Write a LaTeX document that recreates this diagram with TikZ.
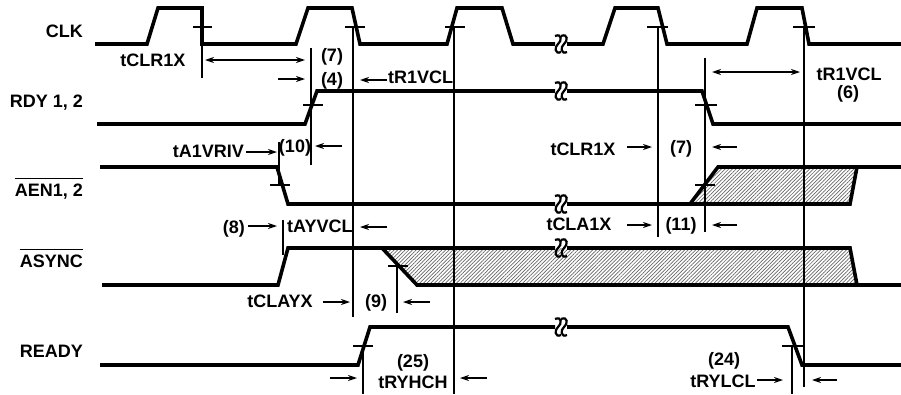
\documentclass[tikz,border=0pt]{standalone}
\usepackage{fontspec}
\setmainfont{Liberation Sans}
\usetikzlibrary{arrows.meta,patterns.meta}
\begin{document}
\begin{tikzpicture}[x=1pt,y=-1pt,
  wave/.style={line width=3.6pt},
  thinline/.style={line width=1.3pt},
  arr/.style={thinline,-{Stealth[length=9pt,width=6pt]}},
  darr/.style={thinline,{Stealth[length=9pt,width=6pt]}-{Stealth[length=9pt,width=6pt]}},
  txt/.style={font=\fontsize{18}{21}\selectfont\bfseries, inner sep=0pt},
  hatch/.style={pattern={Lines[angle=45,distance=2.6pt,line width=0.7pt]}, pattern color=black!60},
  brk/.pic={\draw[line width=2.2pt] (-3,-8) .. controls (4,-11) and (4,-3) .. (0,0) .. controls (-4,3) and (-3,11) .. (3,8);}
]
\useasboundingbox (0,0) rectangle (901,394);

% hatched regions
\fill[hatch] (690,204) -- (718,167) -- (857,167) -- (850,204) -- cycle;
\fill[hatch] (382,248) -- (850,248) -- (857,285) -- (417,285) -- cycle;

% CLK
\draw[wave] (95,44) -- (147,44) -- (158,8) -- (202,8) -- (202,44) -- (296,44) -- (308,8) -- (352,8) -- (360,44) -- (447,44) -- (457,8) -- (502,8) -- (513,44) -- (555,44);
\draw[wave] (567,44) -- (603,44) -- (615,8) -- (658,8) -- (667,44) -- (747,44) -- (757,8) -- (802,8) -- (809,44) -- (901,44);
% RDY
\draw[wave] (97,124) -- (305,124) -- (317,91) -- (555,91);
\draw[wave] (567,91) -- (702,91) -- (713,124) -- (901,124);
% AEN
\draw[wave] (100,167) -- (277,167) -- (288,204) -- (555,204);
\draw[wave] (567,204) -- (850,204) -- (857,167) -- (901,167);
\draw[wave] (690,204) -- (718,167) -- (857,167);
% ASYNC
\draw[wave] (102,285) -- (278,285) -- (288,248) -- (555,248);
\draw[wave] (567,248) -- (850,248) -- (857,285) -- (901,285);
\draw[wave] (382,248) -- (417,285) -- (857,285);
% READY
\draw[wave] (100,365) -- (358,365) -- (370,327) -- (555,327);
\draw[wave] (567,327) -- (788,327) -- (802,365) -- (901,365);

% breaks
\foreach \yy in {44,91,204,248,327}{
  \pic at (558,\yy) {brk};
  \pic at (564,\yy) {brk};
}

% vertical reference lines
\draw[thinline] (202,27) -- (202,78);
\draw[thinline] (311,48) -- (311,165);
\draw[thinline] (353,27) -- (353,317);
\draw[thinline] (454,27) -- (454,394);
\draw[thinline] (658,27) -- (658,237);
\draw[thinline] (705,58) -- (705,232);
\draw[thinline] (804,27) -- (804,387);
\draw[thinline] (279,142) -- (279,185);
\draw[thinline] (283,220) -- (283,255);
\draw[thinline] (397,265) -- (397,313);
\draw[thinline] (363,346) -- (363,394);
\draw[thinline] (792,346) -- (792,394);

% ticks
\foreach \xa/\xb/\yy in {193/212/27,345/365/27,445/465/27,647/668/27,793/815/27,303/323/105,695/717/105,270/290/185,695/715/185,388/408/266,353/373/346,782/803/346}{
  \draw[thinline] (\xa,\yy) -- (\xb,\yy);
}

% signal labels
\node[txt, anchor=base east] (clk) at (83,37) {CLK};
\node[txt, anchor=base east] (rdy) at (83,107) {RDY 1, 2};
\node[txt, anchor=base east] (aen) at (83,196) {AEN1, 2};
\node[txt, anchor=base east] (async) at (83,267) {ASYNC};
\node[txt, anchor=base east] (ready) at (83,357) {READY};
\draw[thinline] ([yshift=4.5pt]aen.north west) -- ([yshift=4.5pt]aen.north east);
\draw[thinline] ([yshift=4.5pt]async.north west) -- ([yshift=4.5pt]async.north east);

% timing labels
\node[txt, anchor=base] (t1) at (153,66) {tCLR1X};
\node[txt, anchor=base] (t2) at (332,61) {(7)};
\node[txt, anchor=base] (t3) at (332,85) {(4)};
\node[txt, anchor=base west] (t4) at (388,83) {tR1VCL};
\node[txt, anchor=base] (t5) at (849,80) {tR1VCL};
\node[txt, anchor=base] (t6) at (848,98) {(6)};
\node[txt, anchor=base east] (t7) at (244,157) {tA1VRIV};
\node[txt, anchor=base] (t8) at (295,152) {(10)};
\node[txt, anchor=base] (t9) at (583,155) {tCLR1X};
\node[txt, anchor=base] (t10) at (681,153) {(7)};
\node[txt, anchor=base] (t11) at (579,230) {tCLA1X};
\node[txt, anchor=base] (t12) at (681,230) {(11)};
\node[txt, anchor=base east] (t13) at (245,233) {(8)};
\node[txt, anchor=base west] (t14) at (287,232) {tAYVCL};
\node[txt, anchor=base] (t15) at (280,307) {tCLAYX};
\node[txt, anchor=base] (t16) at (376,307) {(9)};
\node[txt, anchor=base] (t17) at (413,367) {(25)};
\node[txt, anchor=base] (t18) at (413,388) {tRYHCH};
\node[txt, anchor=base] (t19) at (724,365) {(24)};
\node[txt, anchor=base] (t20) at (723,387) {tRYLCL};

% arrows
\draw[darr] (205,60) -- (305,60);
\draw[arr] (278,79) -- (305,79);
\draw[arr] (387,80) -- (360,80);
\draw[darr] (712,72) -- (800,72);
\draw[arr] (246,152) -- (277,152);
\draw[arr] (342,146) -- (315,146);
\draw[arr] (627,147) -- (652,147);
\draw[arr] (737,147) -- (712,147);
\draw[arr] (627,225) -- (652,225);
\draw[arr] (737,225) -- (712,225);
\draw[arr] (248,226) -- (277,226);
\draw[arr] (387,227) -- (360,227);
\draw[arr] (323,302) -- (350,302);
\draw[arr] (430,302) -- (403,302);
\draw[arr] (330,378) -- (357,378);
\draw[arr] (487,378) -- (460,378);
\draw[arr] (757,380) -- (783,380);
\draw[arr] (837,380) -- (812,380);
\end{tikzpicture}
\end{document}
